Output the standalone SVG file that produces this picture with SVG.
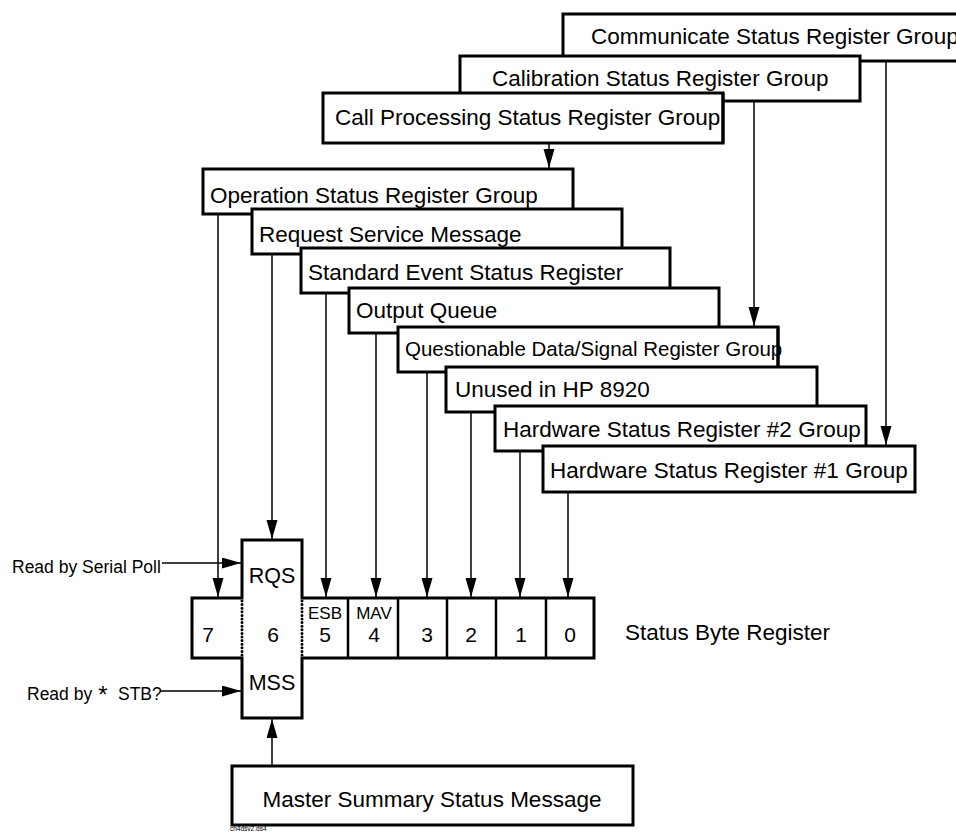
<svg xmlns="http://www.w3.org/2000/svg" width="956" height="832" viewBox="0 0 956 832">
<defs>
<style>
.box{fill:#fff;stroke:#000;stroke-width:3;stroke-linejoin:miter}
.t{font-family:"Liberation Sans",Arial,Helvetica,sans-serif;font-size:22.5px;fill:#000}
.ts{font-family:"Liberation Sans",Arial,Helvetica,sans-serif;font-size:17.5px;fill:#000}
.tn{font-family:"Liberation Sans",Arial,Helvetica,sans-serif;font-size:21px;fill:#000;text-anchor:middle}
.c{fill:none;stroke:#000;stroke-width:1.5}
.ca{fill:none;stroke:#000;stroke-width:1.5;marker-end:url(#ah)}
.div{stroke:#000;stroke-width:2.5}
.dot{stroke:#000;stroke-width:3;stroke-dasharray:0 3.6;stroke-linecap:round}
</style>
<marker id="ah" markerUnits="userSpaceOnUse" markerWidth="20" markerHeight="12" refX="19" refY="5.5" orient="auto">
<path d="M0,0 L19,5.5 L0,11 z" fill="#000"/>
</marker>
</defs>
<rect width="956" height="832" fill="#fff"/>

<g id="communicate"><rect class="box" x="563" y="14" width="420" height="47"/><text class="t" x="591" y="44">Communicate Status Register Group</text></g>
<g id="calibration"><rect class="box" x="460" y="56" width="400" height="45"/><text class="t" x="492" y="86">Calibration Status Register Group</text></g>
<g id="callproc"><rect class="box" x="323" y="93" width="400" height="50"/><text class="t" x="335" y="125">Call Processing Status Register Group</text><rect x="721.5" y="93" width="3" height="50" fill="#000"/></g>

<g id="operation"><rect class="box" x="203" y="169" width="370" height="45"/><text class="t" x="210" y="203">Operation Status Register Group</text></g>
<g id="request"><rect class="box" x="252" y="209" width="370" height="45"/><text class="t" x="259" y="242">Request Service Message</text></g>
<g id="standard"><rect class="box" x="301" y="248" width="369" height="45"/><text class="t" x="308" y="280">Standard Event Status Register</text></g>
<g id="output"><rect class="box" x="349" y="288" width="370" height="45"/><text class="t" x="356" y="318">Output Queue</text></g>
<g id="questionable"><rect class="box" x="398" y="327" width="380" height="45"/><text class="t" x="405" y="356" style="font-size:20.5px">Questionable Data/Signal Register Group</text><rect x="776.5" y="327" width="3" height="45" fill="#000"/></g>
<g id="unused"><rect class="box" x="446" y="367" width="371" height="45"/><text class="t" x="455" y="397">Unused in HP 8920</text></g>
<g id="hw2"><rect class="box" x="495" y="406" width="371" height="45"/><text class="t" x="503" y="437">Hardware Status Register #2 Group</text></g>
<g id="hw1"><rect class="box" x="543" y="446" width="372" height="46"/><text class="t" x="550" y="478">Hardware Status Register #1 Group</text></g>

<g id="status-byte-register">
<path class="box" d="M192,598 H242 V540 H302 V598 H594 V658 H302 V718 H242 V658 H192 Z"/>
<line class="dot" x1="242" y1="601" x2="242" y2="657"/>
<line class="dot" x1="302" y1="601" x2="302" y2="657"/>
<line class="div" x1="348" y1="598" x2="348" y2="658"/>
<line class="div" x1="398" y1="598" x2="398" y2="658"/>
<line class="div" x1="447" y1="598" x2="447" y2="658"/>
<line class="div" x1="496" y1="598" x2="496" y2="658"/>
<line class="div" x1="546" y1="598" x2="546" y2="658"/>
<text class="tn" x="272" y="583" style="font-size:21.5px">RQS</text>
<text class="tn" x="272" y="690" style="font-size:21.5px">MSS</text>
<text class="tn" x="325" y="619" style="font-size:17px">ESB</text>
<text class="tn" x="374" y="619" style="font-size:17px">MAV</text>
<text class="tn" x="208" y="642">7</text>
<text class="tn" x="273" y="642">6</text>
<text class="tn" x="325" y="642">5</text>
<text class="tn" x="374" y="642">4</text>
<text class="tn" x="427" y="642">3</text>
<text class="tn" x="471" y="642">2</text>
<text class="tn" x="521" y="642">1</text>
<text class="tn" x="570" y="642">0</text>
<text class="t" x="625" y="640">Status Byte Register</text>
</g>

<g id="mss-box"><rect class="box" x="232" y="766" width="401" height="59"/><text class="t" x="432" y="807" text-anchor="middle">Master Summary Status Message</text></g>

<g id="labels">
<text class="ts" x="12" y="573">Read by Serial Poll</text>
<text class="ts" x="27" y="700">Read by</text>
<text class="ts" x="103" y="703" text-anchor="middle" style="font-size:24px">*</text>
<text class="ts" x="118" y="700">STB?</text>
<text x="230" y="831" style="font-family:'Liberation Sans',Arial,sans-serif;font-size:6.5px;fill:#000">ch4dsv2.ds4</text>
</g>

<g id="connectors">
<path class="ca" d="M549,144 V168"/>
<path class="ca" d="M754,102 V326"/>
<path class="ca" d="M886,62 V445"/>
<path class="ca" d="M218,215 V597"/>
<path class="ca" d="M272,255 V539"/>
<path class="ca" d="M326,294 V597"/>
<path class="ca" d="M376,334 V597"/>
<path class="ca" d="M427,373 V597"/>
<path class="ca" d="M471,413 V597"/>
<path class="ca" d="M520,452 V597"/>
<path class="ca" d="M568,493 V597"/>
<path class="ca" d="M162,563 H241"/>
<path class="ca" d="M160,691 H241"/>
<path class="ca" d="M272,765 V719"/>
</g>
</svg>
